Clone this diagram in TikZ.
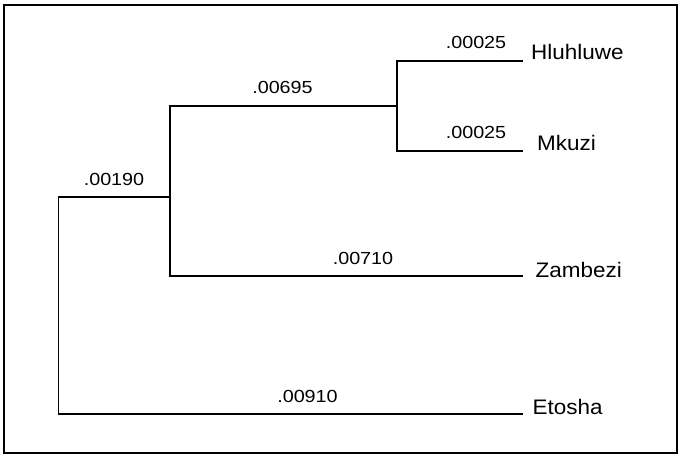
\documentclass[tikz,border=0pt]{standalone}
\usepackage{fontspec}
\setmainfont{Liberation Sans}
\newfontfamily\namefont[FakeStretch=1.07]{Liberation Sans}
\newfontfamily\lenfont[FakeStretch=1.13]{Liberation Sans}
\begin{document}
\begin{tikzpicture}[x=1pt,y=-1pt,
  branch/.style={line width=1.6pt,line cap=rect},
  frame/.style={line width=2pt},
  taxon/.style={anchor=base west,inner sep=0pt,font=\namefont\fontsize{21}{25}\selectfont},
  blen/.style={anchor=base,inner sep=0pt,font=\lenfont\fontsize{17.5}{21}\selectfont}]
\useasboundingbox (0,0) rectangle (680,457);
\draw[frame] (4,5) rectangle (677,453);
% internal nodes
\coordinate (root) at (58.5,197);
\coordinate (rootB) at (58.5,414);
\coordinate (n1) at (170,197);
\coordinate (n1T) at (170,106);
\coordinate (n1B) at (170,276);
\coordinate (n2) at (397,106);
\coordinate (n2T) at (397,61);
\coordinate (n2B) at (397,151);
% leaf ends
\coordinate (lH) at (522,61);
\coordinate (lM) at (522,151);
\coordinate (lZ) at (522,276);
\coordinate (lE) at (522,414);
% branches
\draw[branch] (n1) -- (root) -- (rootB) -- (lE);
\draw[branch] (n2) -- (n1T) -- (n1B) -- (lZ);
\draw[branch] (lH) -- (n2T) -- (n2B) -- (lM);
% taxa
\node[taxon] (Hl) at (531,60) {Hluhluwe};
\node[taxon] (Mk) at (537,151) {Mkuzi};
\node[taxon] (Za) at (535.5,277) {Zambezi};
\node[taxon] (Et) at (532.5,414) {Etosha};
% branch lengths
\node[blen] (bH) at (476,49) {.00025};
\node[blen] (bM) at (476,139) {.00025};
\node[blen] (b2) at (282.5,94) {.00695};
\node[blen] (b1) at (114,186) {.00190};
\node[blen] (bZ) at (363,265) {.00710};
\node[blen] (bE) at (307.5,402) {.00910};
\end{tikzpicture}
\end{document}
